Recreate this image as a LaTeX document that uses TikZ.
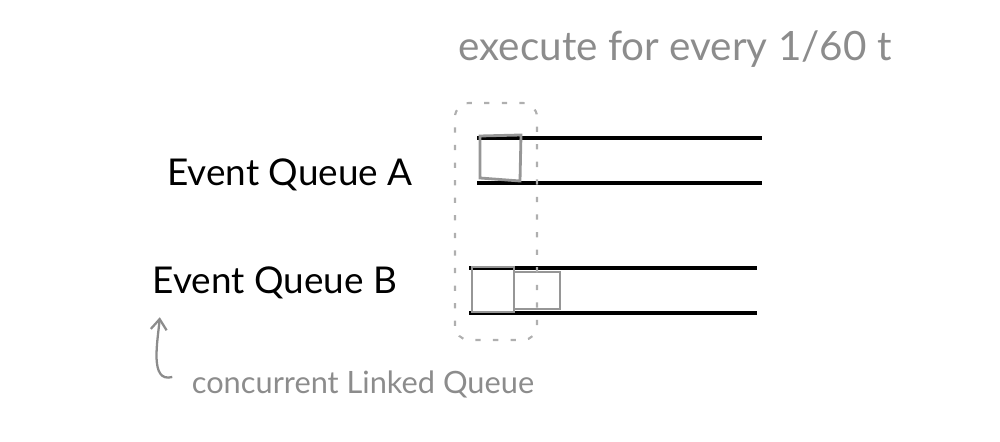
\documentclass[tikz,border=0pt]{standalone}
\usepackage{fontspec}
\setmainfont{Lato}
\usepackage{tikz}
\usetikzlibrary{positioning, arrows.meta, calc}
\definecolor{SketchGray}{RGB}{140,140,140}
\definecolor{BoxGray}{RGB}{150,150,150}
\definecolor{DotGray}{RGB}{175,175,175}

\begin{document}
\begin{tikzpicture}[
          lbl/.style={font=\fontsize{21}{24}\selectfont, text=black, inner sep=1pt},
          note/.style={font=\fontsize{23}{26}\selectfont, text=SketchGray, inner sep=1pt},
          rail/.style={line width=2pt, black},
          slot/.style={draw=BoxGray, line width=1.6pt},
          arr/.style={-{Straight Barb[length=6pt, width=9pt]}, line width=1.3pt, SketchGray}
        ]
        \useasboundingbox (0,0) rectangle (20,8.84);

        % queue rails
        \draw[rail] (9.54,6.08) -- (15.24,6.08);
        \draw[rail] (9.54,5.18) -- (15.24,5.18);
        \draw[rail] (9.38,3.48) -- (15.14,3.48);
        \draw[rail] (9.38,2.58) -- (15.14,2.58);

        % queued events
        \draw[slot] (9.6,6.12) -- (10.42,6.14) -- (10.4,5.22) -- (9.6,5.28) -- cycle;
        \draw[slot] (9.44,2.6) rectangle (10.28,3.5);
        \draw[slot] (10.28,2.66) rectangle (11.2,3.4);

        % tick window
        \draw[DotGray, line width=1.2pt, dash pattern=on 3pt off 7pt, rounded corners=8pt]
          (9.1,2.04) rectangle (10.74,6.78);

        % labels
        \node[lbl] (qa) at (5.8,5.34) {Event Queue A};
        \node[lbl] (qb) at (5.5,3.18) {Event Queue B};
        \node[note] (tick) at (13.5,7.86) {execute for every 1/60 t};
        \node[note, font=\fontsize{17.5}{20}\selectfont] (clq) at (7.26,1.16) {concurrent Linked Queue};

        \draw[arr] ($(clq.west)+(-0.35,0.14)$) to[out=195, in=-95] ($(qb.south west)+(0.18,-0.32)$);
      \end{tikzpicture}
\end{document}
